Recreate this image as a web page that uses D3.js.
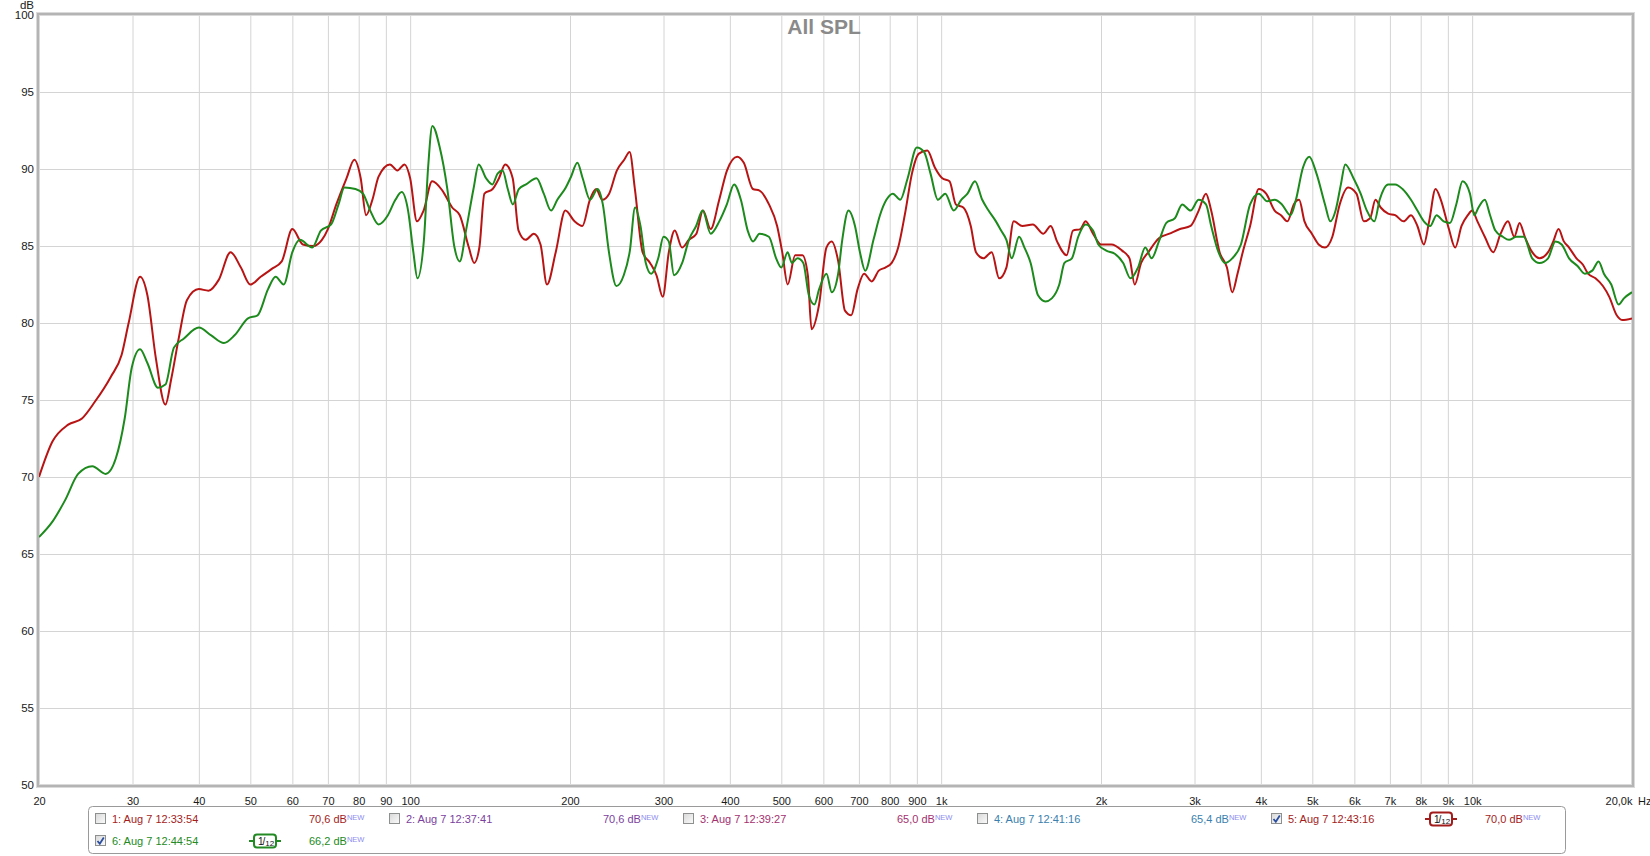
<!DOCTYPE html>
<html>
<head>
<meta charset="utf-8">
<script src="https://cdn.jsdelivr.net/npm/d3@7"></script>
<style>
html, body { margin: 0; padding: 0; background: #fff; }
svg { display: block; font-family: Arial, "Liberation Sans", sans-serif; }
</style>
</head>
<body>
<div id="chart"></div>
<script>
// --- data ---
const tickFreqs  = [20, 30, 40, 50, 60, 70, 80, 90, 100, 200, 300, 400, 500, 600, 700, 800, 900,
                    1000, 2000, 3000, 4000, 5000, 6000, 7000, 8000, 9000, 10000, 20000];
const tickLabels = ['20', '30', '40', '50', '60', '70', '80', '90', '100', '200', '300', '400', '500', '600', '700', '800', '900',
                    '1k', '2k', '3k', '4k', '5k', '6k', '7k', '8k', '9k', '10k', '20,0k'];
const dbTicks    = [50, 55, 60, 65, 70, 75, 80, 85, 90, 95, 100];

const legendLabels = ['1: Aug 7 12:33:54', '2: Aug 7 12:37:41', '3: Aug 7 12:39:27',
                      '4: Aug 7 12:41:16', '5: Aug 7 12:43:16', '6: Aug 7 12:44:54'];
const legendLevels = ['70,6 dB', '70,6 dB', '65,0 dB', '65,4 dB', '70,0 dB', '66,2 dB'];
const legendOn     = [false, false, false, false, true, true];

// measurement 5 (red), [Hz, dB]
const meas5 = [[20,70.0],[21.2,72.3],[22.7,73.4],[24.1,73.8],[25.5,74.9],[27.3,76.5],[28.6,77.9],[29.5,80.0],[31.0,83.0],[32.0,81.8],
  [33.2,77.7],[34.6,74.7],[35.5,76.4],[36.7,79.1],[38.0,81.5],[40.0,82.2],[41.7,82.1],[43.6,82.8],[45.9,84.6],[48.0,83.6],
  [50.0,82.5],[52.3,83.0],[54.8,83.5],[57.3,84.0],[60.0,86.1],[62.8,85.1],[65.7,85.0],[68.2,85.4],[70.0,86.1],[72.6,87.7],
  [75.9,89.4],[78.5,90.6],[80.7,89.4],[82.6,87.0],[84.9,88.0],[87.2,89.5],[91.6,90.3],[94.6,89.9],[97.6,90.3],[100,89.4],
  [103,86.6],[106,87.3],[110,89.2],[115,88.6],[120,87.5],[124,87.0],[129,84.9],[132,83.9],[135,84.9],[138,88.4],
  [143,88.7],[147,89.4],[151,90.3],[156,89.4],[160,86.0],[165,85.4],[171,85.8],[176,85.1],[181,82.5],[188,84.6],
  [196,87.3],[204,86.6],[211,86.3],[218,88.0],[224,88.7],[230,88.0],[237,88.4],[245,89.9],[253,90.6],[259,91.1],
  [265,88.7],[274,84.6],[283,83.9],[291,83.1],[299,81.7],[307,84.6],[315,86.0],[325,84.9],[335,85.4],[346,85.8],
  [356,87.3],[368,86.1],[382,88.0],[395,89.9],[413,90.8],[425,90.4],[442,88.7],[455,88.6],[474,87.7],[491,86.3],
  [502,84.6],[514,82.5],[531,84.4],[548,84.4],[561,83.1],[570,79.6],[589,81.2],[608,84.9],[622,85.3],[640,84.0],
  [659,80.8],[677,80.5],[696,82.2],[716,83.2],[740,82.7],[763,83.4],[785,83.6],[807,83.9],[830,84.9],[857,87.3],
  [881,89.7],[908,91.0],[942,91.2],[973,90.1],[1005,89.4],[1037,89.2],[1066,87.7],[1101,87.5],[1137,86.3],[1163,84.6],
  [1201,84.2],[1245,84.6],[1286,82.9],[1327,83.6],[1370,86.6],[1422,86.3],[1488,86.4],[1558,85.8],[1608,86.3],[1653,85.3],
  [1723,84.4],[1771,86.0],[1829,86.1],[1871,86.6],[1932,85.8],[2000,85.1],[2093,85.1],[2191,84.7],[2263,84.2],[2315,82.5],
  [2380,83.9],[2456,84.6],[2571,85.5],[2691,85.8],[2817,86.1],[2949,86.3],[3055,87.3],[3153,88.4],[3225,87.3],[3345,84.6],
  [3453,83.6],[3533,82.0],[3615,83.2],[3698,84.6],[3818,86.3],[3964,88.7],[4093,88.4],[4246,87.3],[4365,87.0],[4488,86.6],
  [4614,87.7],[4722,88.0],[4833,86.6],[4990,85.8],[5139,85.1],[5283,84.9],[5454,85.6],[5631,87.7],[5840,88.8],[6055,88.4],
  [6251,86.6],[6425,86.8],[6574,88.0],[6726,87.5],[6946,87.1],[7161,87.0],[7428,86.6],[7670,87.0],[7886,86.3],[8110,85.1],
  [8298,86.6],[8531,88.7],[8730,88.0],[9041,86.1],[9292,84.9],[9550,86.3],[9814,87.0],[10000,87.3],[10231,86.6],[10563,85.6],
  [10957,84.6],[11313,85.8],[11680,86.6],[12005,85.6],[12282,86.5],[12566,85.6],[12974,84.6],[13396,84.2],[13898,84.6],[14218,85.3],
  [14545,86.1],[14880,85.3],[15223,84.9],[15720,84.2],[16155,83.8],[16530,83.2],[17071,82.9],[17629,82.4],[18124,81.7],[18717,80.5],
  [19153,80.2],[20000,80.3]];

// measurement 6 (green), [Hz, dB]
const meas6 = [[20,66.1],[21.2,67.1],[22.4,68.5],[23.7,70.2],[25.2,70.7],[26.7,70.2],[27.9,71.2],[29.0,73.8],[29.9,77.1],[31.0,78.3],
  [32.0,77.4],[33.5,75.8],[34.6,76.0],[35.9,78.4],[37.5,79.0],[40.0,79.7],[42.2,79.2],[44.6,78.7],[46.7,79.2],[49.5,80.3],
  [51.6,80.5],[54.0,82.2],[55.8,83.0],[57.8,82.5],[60.0,84.6],[62.0,85.4],[65.4,84.9],[67.9,86.0],[71.0,86.4],[73.3,87.7],
  [75.2,88.8],[78.9,88.7],[81.5,88.4],[84.1,87.3],[87.2,86.4],[90.8,87.0],[93.8,88.0],[96.4,88.5],[99.1,87.3],[101.4,84.6],
  [103.2,82.9],[106.1,85.3],[108.1,90.1],[110.1,92.8],[113.7,91.4],[117.5,88.7],[121.2,84.9],[124.0,84.0],[127.4,86.0],[131.6,88.7],
  [134.6,90.3],[139.0,89.4],[142.8,89.0],[146.1,89.7],[149.3,89.9],[152.7,88.7],[156.1,87.7],[160.2,88.7],[165.3,89.0],[173.0,89.4],
  [178.5,88.4],[184.2,87.3],[189.3,88.0],[196.4,88.8],[200.9,89.5],[206.5,90.4],[211.3,89.4],[218.2,88.0],[225.4,88.7],[230.6,87.7],
  [236.8,84.6],[244.6,82.4],[252.5,83.1],[259.3,84.7],[265.2,87.5],[271.5,86.3],[277.8,83.9],[284.4,83.2],[293.2,84.2],[300,85.6],
  [306.9,85.3],[314.0,83.1],[325.3,83.9],[335.0,85.4],[345.6,86.3],[355.5,87.3],[368.1,85.8],[382.1,86.6],[394.8,87.7],[407.4,89.0],
  [419.6,88.0],[432.2,86.0],[442.4,85.3],[455.0,85.8],[473.8,85.6],[488.9,84.2],[500,83.6],[513.9,84.6],[523.4,83.9],[536.1,84.2],
  [550.0,83.9],[563.4,81.8],[577.1,81.2],[589.2,82.2],[608.3,83.2],[622.3,82.0],[639.8,83.2],[650.7,85.3],[669.1,87.3],[688.2,86.3],
  [703.2,84.6],[719.4,83.4],[745.7,85.4],[767.0,87.0],[788.6,88.0],[811.0,88.4],[837.4,88.0],[864.8,89.4],[900,91.4],[929.0,91.1],
  [955.0,89.7],[986.1,88.0],[1018,88.4],[1056,87.3],[1091,88.0],[1121,88.4],[1158,89.2],[1195,88.0],[1228,87.3],[1268,86.6],
  [1297,86.0],[1327,85.4],[1358,84.2],[1402,85.6],[1435,84.9],[1474,83.9],[1522,81.8],[1572,81.4],[1616,81.6],[1669,82.5],
  [1707,83.9],[1763,84.2],[1812,85.6],[1871,86.4],[1932,86.0],[1977,85.1],[2046,84.7],[2123,84.5],[2202,83.9],[2273,82.9],
  [2348,83.6],[2424,84.9],[2491,84.2],[2571,85.3],[2655,86.5],[2755,86.8],[2844,87.7],[2949,87.3],[3055,88.0],[3153,87.7],
  [3225,86.3],[3329,84.6],[3421,83.9],[3533,84.2],[3669,85.1],[3818,87.7],[3964,88.4],[4112,87.9],[4246,88.0],[4383,87.7],
  [4550,87.0],[4657,88.0],[4802,90.1],[4935,90.8],[5092,89.7],[5283,87.7],[5406,86.6],[5531,87.3],[5660,89.0],[5767,90.3],
  [5978,89.4],[6166,88.4],[6334,87.3],[6544,86.6],[6696,88.0],[6946,89.0],[7161,89.0],[7394,88.7],[7670,88.0],[7886,87.3],
  [8110,86.6],[8336,86.3],[8570,87.0],[8837,86.6],[9083,86.5],[9334,87.7],[9593,89.2],[9904,88.4],[10092,87.0],[10278,87.5],
  [10563,88.0],[10808,87.0],[11058,86.0],[11418,85.6],[11734,85.4],[12115,85.6],[12508,85.6],[12974,84.2],[13396,83.9],[13898,84.2],
  [14349,85.3],[14744,85.1],[15223,84.2],[15792,83.7],[16303,83.2],[16833,83.4],[17304,84.0],[17706,83.2],[18281,82.5],[18875,81.2],
  [19311,81.6],[20000,82.0]];

// --- layout ---
const W = 1650, H = 856;
const PLOT = { left: 39, right: 1632, top: 15, bottom: 785 };
const C_RED   = '#b81414';
const C_GREEN = '#1c8a1c';
const LEGEND_COLORS = ['#a31c1c', '#7b3f9e', '#a3316f', '#3a7fae', '#a31c1c', '#238a23'];

const svg = d3.select('#chart').append('svg')
    .attr('width', W)
    .attr('height', H);

const x = d3.scaleLog().domain([20, 20000]).range([PLOT.left, PLOT.right]);
const y = d3.scaleLinear().domain([50, 100]).range([PLOT.bottom, PLOT.top]);

const pw = PLOT.right - PLOT.left;
const ph = PLOT.bottom - PLOT.top;

// axes with gridlines
const gx = svg.append('g').attr('transform', `translate(0,${PLOT.bottom})`)
    .call(d3.axisBottom(x).tickValues(tickFreqs)
        .tickFormat((d, i) => tickLabels[i]).tickSize(-ph).tickPadding(12));

const gy = svg.append('g').attr('transform', `translate(${PLOT.left},0)`)
    .call(d3.axisLeft(y).tickValues(dbTicks).tickSize(-pw).tickPadding(5));

[gx, gy].forEach(g => {
    g.select('.domain').remove();
    g.selectAll('.tick line').attr('stroke', '#d4d4d4').attr('stroke-width', 1);
    g.selectAll('.tick text').attr('fill', '#1a1a1a')
        .style('font-family', 'Arial, "Liberation Sans", sans-serif');
});
gx.selectAll('.tick text').style('font-size', '11px');
gy.selectAll('.tick text').style('font-size', '11.5px');

// last x tick sits on the frame edge: right-align it and add the unit
gx.selectAll('.tick').filter(d => d === 20000).select('text')
    .attr('text-anchor', 'end').attr('x', 0);
gx.append('text')
    .attr('x', x(20000) + 6).attr('y', 12).attr('dy', '0.71em')
    .attr('text-anchor', 'start')
    .attr('fill', '#1a1a1a').style('font-size', '11px').text('Hz');

svg.append('text')
    .attr('x', PLOT.left - 5).attr('y', 9)
    .attr('text-anchor', 'end')
    .attr('fill', '#1a1a1a').style('font-size', '11.5px').text('dB');

// frame
svg.append('rect')
    .attr('x', PLOT.left - 1).attr('y', PLOT.top - 1)
    .attr('width', pw + 2).attr('height', ph + 2)
    .attr('fill', 'none').attr('stroke', '#dadada').attr('stroke-width', 4);
svg.append('rect')
    .attr('x', PLOT.left - 1).attr('y', PLOT.top - 1)
    .attr('width', pw + 2).attr('height', ph + 2)
    .attr('fill', 'none').attr('stroke', '#b4b4b4').attr('stroke-width', 2);

// title
svg.append('text')
    .attr('x', 824).attr('y', 34)
    .attr('text-anchor', 'middle')
    .attr('fill', '#8a8a8a')
    .style('font-size', '21px').style('font-weight', 'bold')
    .text('All SPL');

// curves
svg.append('clipPath').attr('id', 'plotClip').append('rect')
    .attr('x', PLOT.left).attr('y', PLOT.top).attr('width', pw).attr('height', ph);

const line = d3.line()
    .x(d => x(d[0]))
    .y(d => y(d[1]))
    .curve(d3.curveMonotoneX);

const curves = svg.append('g').attr('clip-path', 'url(#plotClip)');
[[meas5, C_RED], [meas6, C_GREEN]].forEach(([data, color]) => {
    curves.append('path').datum(data)
        .attr('d', line)
        .attr('fill', 'none')
        .attr('stroke', color)
        .attr('stroke-width', 2)
        .attr('stroke-linejoin', 'round');
});

// legend
const LEG = { x: 88, y: 806, w: 1477, h: 47, col: 294, row1: 819, row2: 841, first: 95 };
const legend = svg.append('g');
legend.append('rect')
    .attr('x', LEG.x + 0.5).attr('y', LEG.y + 0.5)
    .attr('width', LEG.w).attr('height', LEG.h)
    .attr('rx', 4).attr('fill', '#fff')
    .attr('stroke', '#9a9a9a').attr('stroke-width', 1);

const defs = svg.append('defs');
const grad = defs.append('linearGradient').attr('id', 'cbGrad')
    .attr('x1', 0).attr('y1', 0).attr('x2', 1).attr('y2', 1);
grad.append('stop').attr('offset', '0%').attr('stop-color', '#d8d8d8');
grad.append('stop').attr('offset', '100%').attr('stop-color', '#fbfbfb');

legendLabels.forEach((label, i) => {
    const col = i < 5 ? i : 0;
    const cy  = i < 5 ? LEG.row1 : LEG.row2;
    const cx  = LEG.first + col * LEG.col;
    const color = LEGEND_COLORS[i];
    const g = legend.append('g');

    g.append('rect')
        .attr('x', cx + 0.5).attr('y', cy - 5.5)
        .attr('width', 10).attr('height', 10)
        .attr('fill', 'url(#cbGrad)').attr('stroke', '#8e8f8f');
    if (legendOn[i]) {
        g.append('path')
            .attr('d', `M${cx + 2.5},${cy} L${cx + 4.8},${cy + 2.8} L${cx + 8.8},${cy - 3.5}`)
            .attr('fill', 'none').attr('stroke', '#2b4fa0').attr('stroke-width', 1.8);
    }

    g.append('text')
        .attr('x', cx + 17).attr('y', cy).attr('dy', '0.36em')
        .attr('fill', color).style('font-size', '11px').text(label);

    const lv = g.append('text')
        .attr('x', cx + 214).attr('y', cy).attr('dy', '0.36em')
        .attr('fill', color).style('font-size', '11px');
    lv.append('tspan').text(legendLevels[i]);
    lv.append('tspan').attr('dy', '-0.45em').attr('fill', '#8c8cf0')
        .style('font-size', '7.5px').text('NEW');

    if (legendOn[i]) {
        const ix = cx + 170;
        g.append('line')
            .attr('x1', ix - 16).attr('x2', ix + 16).attr('y1', cy).attr('y2', cy)
            .attr('stroke', color).attr('stroke-width', 2);
        g.append('rect')
            .attr('x', ix - 11).attr('y', cy - 6.5).attr('width', 22).attr('height', 13)
            .attr('rx', 3).attr('fill', '#fff')
            .attr('stroke', color).attr('stroke-width', 2);
        const t = g.append('text')
            .attr('x', ix - 7).attr('y', cy + 4)
            .attr('fill', '#111').style('font-size', '10px');
        t.append('tspan').text('1');
        t.append('tspan').attr('dx', -1).attr('dy', 0).text('/');
        t.append('tspan').attr('dy', 1).style('font-size', '8px').text('12');
    }
});
</script>
</body>
</html>
